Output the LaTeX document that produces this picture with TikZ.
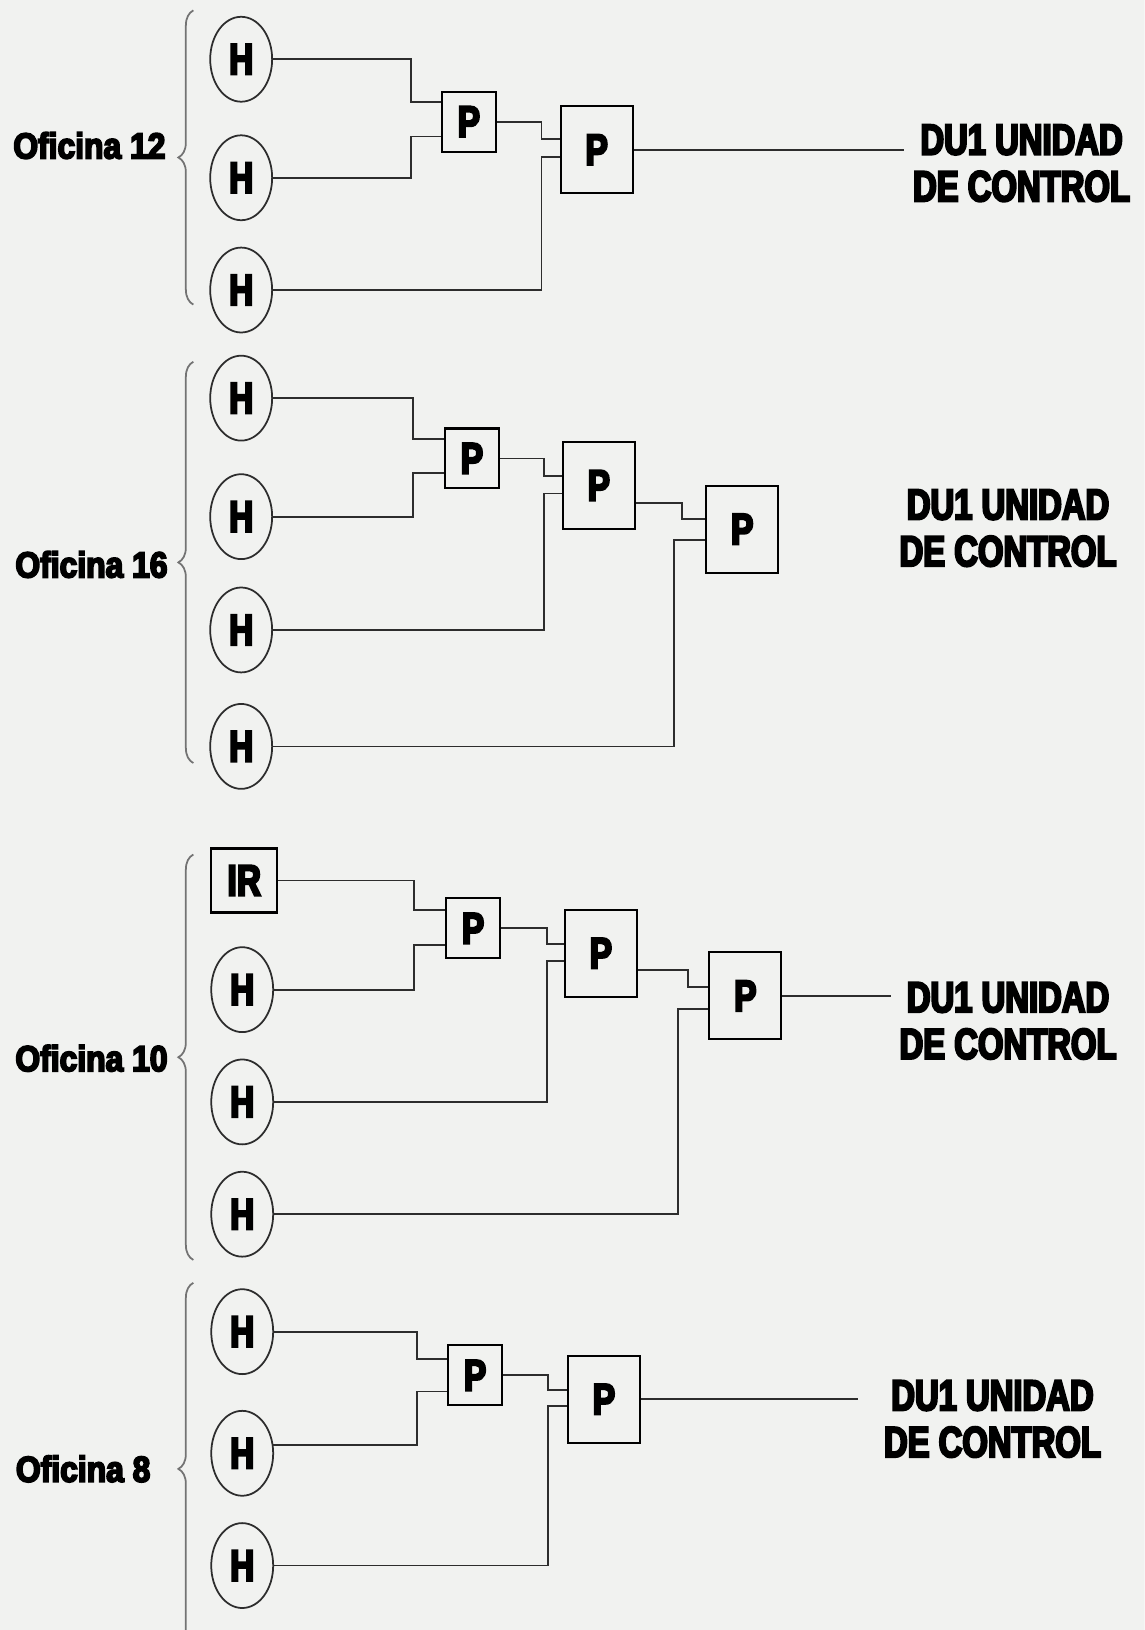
\documentclass[tikz,border=0pt]{standalone}
\usepackage{fontspec}
\newfontfamily\heavy{Liberation Sans Bold}[FakeBold=5,FakeStretch=0.88]
\newfontfamily\heavyc{Liberation Sans Bold}[FakeBold=5,FakeStretch=0.76]
\usepackage{xcolor}
\usepackage{tikz}
\usetikzlibrary{calc,shapes.geometric,decorations.pathreplacing}
\definecolor{paper}{RGB}{241,242,240}
\definecolor{ink}{RGB}{45,45,45}

\begin{document}
\begin{tikzpicture}[x=0.0104cm,y=-0.0104cm,
  wire/.style={draw=ink,line width=0.5pt},
  llave/.style={draw=black!55,line width=0.5pt,decorate,decoration={brace,amplitude=0.15cm}},
  hcirc/.style={ellipse,draw=ink,line width=0.5pt,minimum width=0.62cm,minimum height=0.85cm,inner sep=0pt,font=\heavyc\fontsize{12.5}{13}\selectfont},
  pchico/.style={rectangle,draw=black,line width=0.6pt,minimum width=0.54cm,minimum height=0.60cm,inner sep=0pt,font=\heavyc\fontsize{12.5}{13}\selectfont},
  pgrande/.style={pchico,minimum width=0.72cm,minimum height=0.87cm},
  irbox/.style={pchico,minimum width=0.66cm,minimum height=0.64cm},
  etiq/.style={font=\heavy\fontsize{10.3}{12}\selectfont,inner sep=0pt},
  unidad/.style={anchor=west,align=center,inner sep=0.8mm,font=\heavyc\fontsize{12.3}{13.3}\selectfont}]
\clip(0,0)rectangle(1101,1568);
\fill[paper](0,0)rectangle(1101,1568);

% Oficina 12
\node[etiq](of12)at(86,140){Oficina 12};
\draw[llave](186,293)--(186,10);
\node[hcirc](g1h1)at(232,57){H};
\node[hcirc](g1h2)at(232,171){H};
\node[hcirc](g1h3)at(232,279){H};
\node[pchico](g1p1)at(451,117){P};
\node[pgrande](g1p2)at(574,144){P};
\node[unidad](g1du)at(870,157){DU1 UNIDAD\\DE CONTROL};
\coordinate(g1ja)at(395,0);
\coordinate(g1jb)at(521,0);
\coordinate(g1p1a)at($(g1p1.north west)!0.18!(g1p1.south west)$);
\coordinate(g1p1b)at($(g1p1.north west)!0.74!(g1p1.south west)$);
\coordinate(g1p2a)at($(g1p2.north west)!0.38!(g1p2.south west)$);
\coordinate(g1p2b)at($(g1p2.north west)!0.58!(g1p2.south west)$);
\draw[wire](g1h1.east)-|(g1p1a-|g1ja)--(g1p1a);
\draw[wire](g1h2.east)-|(g1p1b-|g1ja)--(g1p1b);
\draw[wire](g1p1.east)-|(g1p2a-|g1jb)--(g1p2a);
\draw[wire](g1h3.east)-|(g1p2b-|g1jb)--(g1p2b);
\draw[wire](g1p2.east)--(g1p2.east-|g1du.west);

% Oficina 16
\node[etiq](of16)at(88,543){Oficina 16};
\draw[llave](186,734)--(186,348);
\node[hcirc](g2h1)at(232,383){H};
\node[hcirc](g2h2)at(232,497){H};
\node[hcirc](g2h3)at(232,606){H};
\node[hcirc](g2h4)at(232,718){H};
\node[pchico](g2p1)at(454,441){P};
\node[pgrande](g2p2)at(576,467){P};
\node[pgrande](g2p3)at(714,509){P};
\node[unidad](g2du)at(857,508){DU1 UNIDAD\\DE CONTROL};
\coordinate(g2ja)at(397,0);
\coordinate(g2jb)at(523,0);
\coordinate(g2jc)at(656,0);
\coordinate(g2jd)at(648,0);
\coordinate(g2p1a)at($(g2p1.north west)!0.19!(g2p1.south west)$);
\coordinate(g2p1b)at($(g2p1.north west)!0.74!(g2p1.south west)$);
\coordinate(g2p2a)at($(g2p2.north west)!0.39!(g2p2.south west)$);
\coordinate(g2p2b)at($(g2p2.north west)!0.59!(g2p2.south west)$);
\coordinate(g2p2o)at($(g2p2.north east)!0.70!(g2p2.south east)$);
\coordinate(g2p3a)at($(g2p3.north west)!0.39!(g2p3.south west)$);
\coordinate(g2p3b)at($(g2p3.north west)!0.62!(g2p3.south west)$);
\draw[wire](g2h1.east)-|(g2p1a-|g2ja)--(g2p1a);
\draw[wire](g2h2.east)-|(g2p1b-|g2ja)--(g2p1b);
\draw[wire](g2p1.east)-|(g2p2a-|g2jb)--(g2p2a);
\draw[wire](g2h3.east)-|(g2p2b-|g2jb)--(g2p2b);
\draw[wire](g2p2o)-|(g2p3a-|g2jc)--(g2p3a);
\draw[wire](g2h4.east)-|(g2p3b-|g2jd)--(g2p3b);

% Oficina 10
\node[etiq](of10)at(88,1018){Oficina 10};
\draw[llave](186,1212)--(186,822);
\node[irbox](g3ir)at(235,847){IR};
\node[hcirc](g3h2)at(233,952){H};
\node[hcirc](g3h3)at(233,1060){H};
\node[hcirc](g3h4)at(233,1168){H};
\node[pchico](g3p1)at(455,893){P};
\node[pgrande](g3p2)at(578,917){P};
\node[pgrande](g3p3)at(717,958){P};
\node[unidad](g3du)at(857,982){DU1 UNIDAD\\DE CONTROL};
\coordinate(g3ja)at(398,0);
\coordinate(g3jb)at(526,0);
\coordinate(g3jc)at(662,0);
\coordinate(g3jd)at(652,0);
\coordinate(g3p1a)at($(g3p1.north west)!0.21!(g3p1.south west)$);
\coordinate(g3p1b)at($(g3p1.north west)!0.77!(g3p1.south west)$);
\coordinate(g3p2a)at($(g3p2.north west)!0.40!(g3p2.south west)$);
\coordinate(g3p2b)at($(g3p2.north west)!0.59!(g3p2.south west)$);
\coordinate(g3p2o)at($(g3p2.north east)!0.69!(g3p2.south east)$);
\coordinate(g3p3a)at($(g3p3.north west)!0.40!(g3p3.south west)$);
\coordinate(g3p3b)at($(g3p3.north west)!0.65!(g3p3.south west)$);
\draw[wire](g3ir.east)-|(g3p1a-|g3ja)--(g3p1a);
\draw[wire](g3h2.east)-|(g3p1b-|g3ja)--(g3p1b);
\draw[wire](g3p1.east)-|(g3p2a-|g3jb)--(g3p2a);
\draw[wire](g3h3.east)-|(g3p2b-|g3jb)--(g3p2b);
\draw[wire](g3p2o)-|(g3p3a-|g3jc)--(g3p3a);
\draw[wire](g3h4.east)-|(g3p3b-|g3jd)--(g3p3b);
\draw[wire](g3p3.east)--(g3p3.east-|g3du.west);

% Oficina 8
\node[etiq](of8)at(80,1413){Oficina 8};
\draw[llave](186,1592)--(186,1234);
\node[hcirc](g4h1)at(233,1281){H};
\node[hcirc](g4h2)at(233,1398){H};
\node[hcirc](g4h3)at(233,1506){H};
\node[pchico](g4p1)at(457,1323){P};
\node[pgrande](g4p2)at(581,1346){P};
\node[unidad](g4du)at(842,1365){DU1 UNIDAD\\DE CONTROL};
\coordinate(g4ja)at(401,0);
\coordinate(g4jb)at(527,0);
\coordinate(g4p1a)at($(g4p1.north west)!0.24!(g4p1.south west)$);
\coordinate(g4p1b)at($(g4p1.north west)!0.76!(g4p1.south west)$);
\coordinate(g4p2a)at($(g4p2.north west)!0.40!(g4p2.south west)$);
\coordinate(g4p2b)at($(g4p2.north west)!0.58!(g4p2.south west)$);
\draw[wire](g4h1.east)-|(g4p1a-|g4ja)--(g4p1a);
\draw[wire](g4h2.15)-|(g4p1b-|g4ja)--(g4p1b);
\draw[wire](g4p1.east)-|(g4p2a-|g4jb)--(g4p2a);
\draw[wire](g4h3.east)-|(g4p2b-|g4jb)--(g4p2b);
\draw[wire,shorten >=0.17cm](g4p2.east)--(g4p2.east-|g4du.west);
\end{tikzpicture}
\end{document}
